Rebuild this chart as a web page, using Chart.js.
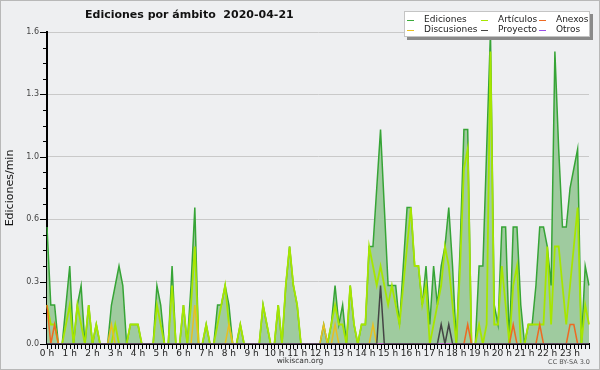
<!DOCTYPE html>
<html>
<head>
<meta charset="utf-8">
<script src="https://cdn.jsdelivr.net/npm/chart.js@4/dist/chart.umd.min.js"></script>
<style>
  html, body { margin: 0; padding: 0; background: #eeeff1; }
  canvas { display: block; }
</style>
</head>
<body>
<canvas id="chart" width="600" height="370"></canvas>
<script>
// 10-minute slots over the day (0:00 .. 23:50)
const slots = [];
for (let h = 0; h < 24; h++) {
  for (let m = 0; m < 60; m += 10) slots.push(h + ':' + String(m).padStart(2, '0'));
}

// edits per minute, one value per slot (2 hours per row)
const ediciones = [
  0.6, 0.2, 0.2, 0, 0, 0.2, 0.4, 0, 0.2, 0.3, 0, 0.2,
  0, 0.1, 0, 0, 0, 0.2, 0.3, 0.4, 0.3, 0, 0.1, 0.1,
  0.1, 0, 0, 0, 0, 0.3, 0.2, 0, 0, 0.4, 0, 0,
  0.2, 0, 0.3, 0.7, 0, 0, 0.1, 0, 0, 0.2, 0.2, 0.3,
  0.2, 0, 0, 0.1, 0, 0, 0, 0, 0, 0.2, 0.1, 0,
  0, 0.2, 0, 0.3, 0.5, 0.3, 0.2, 0, 0, 0, 0, 0,
  0, 0.1, 0, 0.1, 0.3, 0.1, 0.2, 0, 0.3, 0.1, 0, 0.1,
  0.1, 0.5, 0.5, 0.8, 1.1, 0.7, 0.3, 0.3, 0.3, 0.1, 0.4, 0.7,
  0.7, 0.4, 0.4, 0.2, 0.4, 0.1, 0.4, 0.2, 0.4, 0.5, 0.7, 0.4,
  0, 0.5, 1.1, 1.1, 0, 0, 0.4, 0.4, 1.0, 1.6, 0.2, 0.1,
  0.6, 0.6, 0, 0.6, 0.6, 0.2, 0, 0.1, 0.1, 0.3, 0.6, 0.6,
  0.5, 0.3, 1.5, 1.0, 0.6, 0.6, 0.8, 0.9, 1.0, 0, 0.4, 0.3
];
const articulos = [
  0.2, 0.1, 0.1, 0, 0, 0.1, 0.2, 0, 0.2, 0.1, 0, 0.2,
  0, 0.1, 0, 0, 0, 0, 0.1, 0, 0, 0, 0.1, 0.1,
  0.1, 0, 0, 0, 0, 0.2, 0.1, 0, 0, 0.3, 0, 0,
  0.2, 0, 0.2, 0.5, 0, 0, 0.1, 0, 0, 0.1, 0.2, 0.3,
  0.1, 0, 0, 0.1, 0, 0, 0, 0, 0, 0.2, 0.1, 0,
  0, 0.2, 0, 0.3, 0.5, 0.3, 0.2, 0, 0, 0, 0, 0,
  0, 0, 0, 0.1, 0.2, 0.1, 0.1, 0, 0.3, 0.1, 0, 0.1,
  0.1, 0.5, 0.4, 0.3, 0.4, 0.3, 0.2, 0.3, 0.2, 0.1, 0.3, 0.5,
  0.7, 0.4, 0.4, 0.2, 0.3, 0, 0.1, 0.2, 0.3, 0.5, 0.4, 0.2,
  0, 0.4, 0.9, 1.0, 0, 0, 0.1, 0, 0.1, 1.5, 0.1, 0.1,
  0.4, 0.2, 0, 0.3, 0.4, 0, 0, 0.1, 0.1, 0.1, 0.1, 0.1,
  0.5, 0.1, 0.5, 0.5, 0.3, 0.1, 0.3, 0.5, 0.7, 0, 0.2, 0.1
];
const anexos = [
  0.2, 0, 0.1, 0, 0, 0, 0, 0, 0, 0, 0, 0,
  0, 0, 0, 0, 0, 0, 0, 0, 0, 0, 0, 0,
  0, 0, 0, 0, 0, 0, 0, 0, 0, 0, 0, 0,
  0, 0, 0, 0, 0, 0, 0, 0, 0, 0, 0, 0,
  0, 0, 0, 0, 0, 0, 0, 0, 0, 0, 0, 0,
  0, 0, 0, 0, 0, 0, 0, 0, 0, 0, 0, 0,
  0, 0, 0, 0, 0, 0, 0, 0, 0, 0, 0, 0,
  0, 0, 0, 0, 0, 0, 0, 0, 0, 0, 0, 0,
  0, 0, 0, 0, 0, 0, 0, 0, 0, 0, 0, 0,
  0, 0, 0, 0.1, 0, 0, 0, 0, 0, 0, 0, 0,
  0, 0, 0, 0.1, 0, 0, 0, 0, 0, 0, 0.1, 0,
  0, 0, 0, 0, 0, 0, 0.1, 0.1, 0, 0, 0, 0
];
const discusiones = [
  0, 0, 0, 0, 0, 0, 0, 0, 0, 0, 0, 0,
  0, 0, 0, 0, 0, 0.1, 0, 0, 0, 0, 0, 0,
  0, 0, 0, 0, 0, 0, 0, 0, 0, 0, 0, 0,
  0, 0, 0, 0.2, 0, 0, 0, 0, 0, 0, 0, 0,
  0.1, 0, 0, 0, 0, 0, 0, 0, 0, 0, 0, 0,
  0, 0, 0, 0, 0, 0, 0, 0, 0, 0, 0, 0,
  0, 0.1, 0, 0, 0.1, 0, 0, 0, 0, 0, 0, 0,
  0, 0, 0.1, 0, 0, 0, 0, 0, 0, 0, 0, 0,
  0, 0, 0, 0, 0, 0, 0, 0, 0, 0, 0, 0,
  0, 0, 0, 0, 0, 0, 0, 0, 0, 0, 0, 0,
  0, 0, 0, 0, 0, 0, 0, 0, 0, 0, 0, 0,
  0, 0, 0, 0, 0, 0, 0, 0, 0, 0, 0, 0
];
const proyecto = [
  0, 0, 0, 0, 0, 0, 0, 0, 0, 0, 0, 0,
  0, 0, 0, 0, 0, 0, 0, 0, 0, 0, 0, 0,
  0, 0, 0, 0, 0, 0, 0, 0, 0, 0, 0, 0,
  0, 0, 0, 0, 0, 0, 0, 0, 0, 0, 0, 0,
  0, 0, 0, 0, 0, 0, 0, 0, 0, 0, 0, 0,
  0, 0, 0, 0, 0, 0, 0, 0, 0, 0, 0, 0,
  0, 0, 0, 0, 0, 0, 0, 0, 0, 0, 0, 0,
  0, 0, 0, 0, 0.3, 0, 0, 0, 0, 0, 0, 0,
  0, 0, 0, 0, 0, 0, 0, 0, 0.1, 0, 0.1, 0,
  0, 0, 0, 0, 0, 0, 0, 0, 0, 0, 0, 0,
  0, 0, 0, 0, 0, 0, 0, 0, 0, 0, 0, 0,
  0, 0, 0, 0, 0, 0, 0, 0, 0, 0, 0, 0
];
const otros = slots.map(() => 0);

// y axis: labelled ticks (every 0.32), minor ticks in between
const yMajorTicks = [0, 0.32, 0.64, 0.96, 1.28, 1.6];
const yTickLabels = ['0.0', '0.3', '0.6', '1.0', '1.3', '1.6'];

const legendItems = [
  { label: 'Ediciones', color: '#3aaa3a', x: 407, y: 20 },
  { label: 'Discusiones', color: '#e8c020', x: 407, y: 30 },
  { label: 'Artículos', color: '#a6e600', x: 481, y: 20 },
  { label: 'Proyecto', color: '#444444', x: 481, y: 30 },
  { label: 'Anexos', color: '#ee6a22', x: 539, y: 20 },
  { label: 'Otros', color: '#9a4ee8', x: 539, y: 30 }
];

const FONT = '"DejaVu Sans", sans-serif';

// background, frame, tick marks, titles and legend
const decor = {
  id: 'decor',
  beforeDraw(chart) {
    const c = chart.ctx;
    c.save();
    c.fillStyle = '#eeeff1';
    c.fillRect(0, 0, chart.width, chart.height);
    c.restore();
  },
  afterDraw(chart) {
    const c = chart.ctx;
    const xs = chart.scales.x;
    const ys = chart.scales.y;
    const area = chart.chartArea;
    const bottom = Math.round(area.bottom);
    c.save();

    // y tick marks
    c.strokeStyle = '#000';
    c.lineWidth = 1;
    ys.ticks.forEach((t, i) => {
      const py = Math.round(ys.getPixelForValue(t.value)) + 0.5;
      const len = i % 4 === 0 ? 7 : 4;
      c.beginPath();
      c.moveTo(area.left - len, py);
      c.lineTo(area.left, py);
      c.stroke();
    });

    // x tick marks, one per slot
    c.beginPath();
    slots.forEach((s, i) => {
      const px = Math.round(xs.getPixelForValue(i)) + 0.5;
      c.moveTo(px, bottom);
      c.lineTo(px, bottom + 5);
    });
    c.stroke();

    // frame
    c.strokeStyle = '#b8b8b8';
    c.strokeRect(0.5, 0.5, chart.width - 1, chart.height - 1);

    // title
    c.fillStyle = '#111';
    c.font = 'bold 11px ' + FONT;
    c.textAlign = 'left';
    c.textBaseline = 'alphabetic';
    c.fillText('Ediciones por ámbito  2020-04-21', 85, 18);

    // y axis title
    c.save();
    c.translate(10, (area.top + area.bottom) / 2);
    c.rotate(-Math.PI / 2);
    c.font = '11px ' + FONT;
    c.textAlign = 'center';
    c.textBaseline = 'middle';
    c.fillText('Ediciones/min', 0, 0);
    c.restore();

    // footer
    c.fillStyle = '#333';
    c.font = '7.5px ' + FONT;
    c.textAlign = 'center';
    c.textBaseline = 'middle';
    c.fillText('wikiscan.org', 300, 361);
    c.fillStyle = '#555';
    c.font = '6.5px ' + FONT;
    c.textAlign = 'right';
    c.fillText('CC BY-SA 3.0', 590, 362);

    // legend box with shadow
    c.fillStyle = '#8a8a8a';
    c.fillRect(407, 14, 186, 26);
    c.fillStyle = '#fff';
    c.fillRect(404, 11, 186, 26);
    c.strokeStyle = '#c4c4c4';
    c.strokeRect(404.5, 11.5, 185, 25);

    c.font = '9px ' + FONT;
    c.textAlign = 'left';
    c.textBaseline = 'middle';
    legendItems.forEach(it => {
      c.strokeStyle = it.color;
      c.lineWidth = 1;
      c.beginPath();
      c.moveTo(it.x, it.y + 0.5);
      c.lineTo(it.x + 7, it.y + 0.5);
      c.stroke();
      c.fillStyle = '#222';
      c.fillText(it.label, it.x + 17, it.y);
    });

    c.restore();
  }
};

const line = (label, data, color, order, width) => ({
  label, data, order,
  borderColor: color,
  borderWidth: width || 1.5,
  pointRadius: 0,
  tension: 0,
  fill: false
});

new Chart(document.getElementById('chart'), {
  type: 'line',
  data: {
    labels: slots,
    datasets: [
      Object.assign(line('Ediciones', ediciones, '#36a436', 10), {
        fill: 'origin',
        backgroundColor: '#9fcb9f'
      }),
      line('Artículos', articulos, '#a6e600', 5, 1.8),
      line('Discusiones', discusiones, '#e8c020', 4),
      line('Anexos', anexos, '#ee6a22', 3),
      line('Otros', otros, '#9a4ee8', 2),
      line('Proyecto', proyecto, '#444444', 1)
    ]
  },
  options: {
    responsive: false,
    animation: false,
    events: [],
    layout: { padding: { top: 32, right: 11, left: 0, bottom: 0 } },
    plugins: {
      legend: { display: false },
      title: { display: false },
      tooltip: { enabled: false }
    },
    scales: {
      x: {
        type: 'category',
        offset: false,
        afterFit: (scale) => { scale.height = 26; },
        border: { color: '#000', width: 2 },
        grid: { drawOnChartArea: false, drawTicks: false },
        ticks: {
          autoSkip: false,
          maxRotation: 0,
          minRotation: 0,
          padding: 4,
          color: '#222',
          font: { family: FONT, size: 9 },
          callback: (value, index) => (index % 6 === 0 ? (index / 6) + ' h' : '')
        }
      },
      y: {
        min: 0,
        max: 1.6,
        afterFit: (scale) => { scale.width = 47; },
        afterBuildTicks: (scale) => {
          const t = [];
          yMajorTicks.forEach((v, k) => {
            t.push({ value: v });
            if (k < yMajorTicks.length - 1) {
              const step = (yMajorTicks[k + 1] - v) / 4;
              for (let j = 1; j < 4; j++) t.push({ value: v + j * step });
            }
          });
          scale.ticks = t;
        },
        border: { color: '#000', width: 2 },
        grid: {
          drawTicks: false,
          color: (ctx) => (ctx.index % 4 === 0 ? '#c9c9c9' : 'rgba(0,0,0,0)'),
          lineWidth: 1
        },
        ticks: {
          autoSkip: false,
          padding: 8,
          color: '#444',
          font: { family: FONT, size: 8 },
          callback: (value, index) => (index % 4 === 0 ? yTickLabels[index / 4] : '')
        }
      }
    }
  },
  plugins: [decor]
});
</script>
</body>
</html>
